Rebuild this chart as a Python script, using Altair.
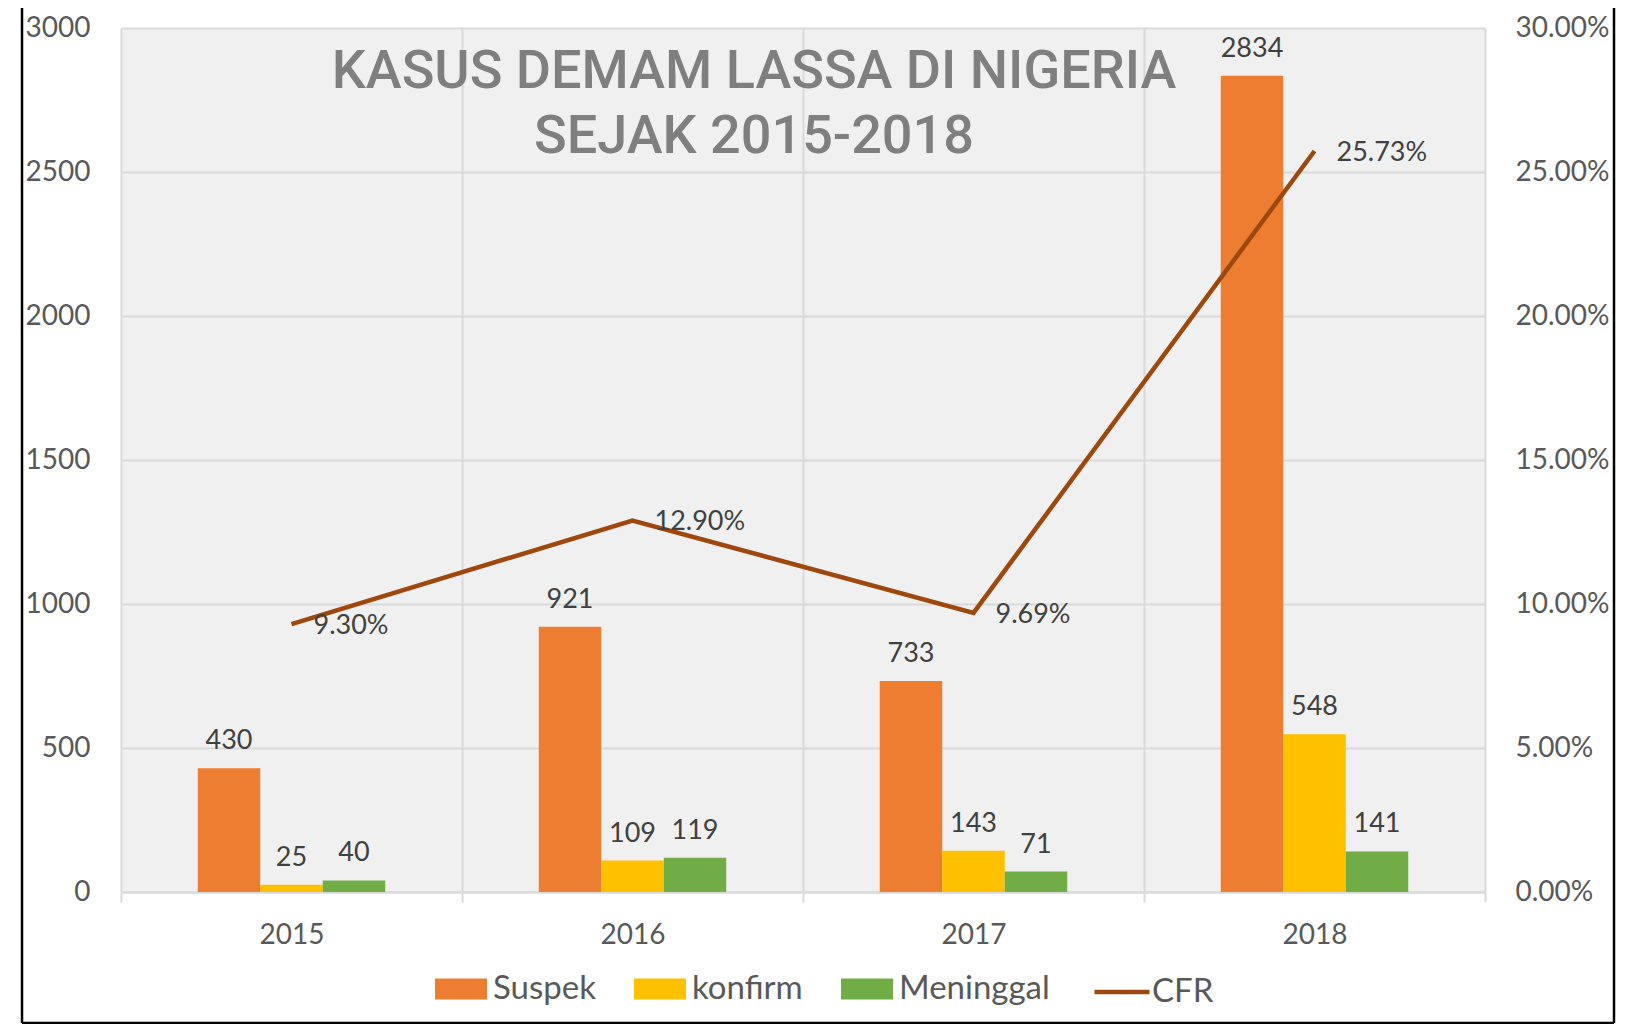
import altair as alt
import pandas as pd

# ---- data ----
years = ["2015", "2016", "2017", "2018"]
series_names = ["Suspek", "konfirm", "Meninggal"]
suspek = [430, 921, 733, 2834]
konfirm = [25, 109, 143, 548]
meninggal = [40, 119, 71, 141]
cfr = [0.0930, 0.1290, 0.0969, 0.2573]
title_lines = ["KASUS DEMAM LASSA DI NIGERIA", "SEJAK 2015-2018"]
left_ticks = [0, 500, 1000, 1500, 2000, 2500, 3000]
right_ticks = [0.0, 0.05, 0.10, 0.15, 0.20, 0.25, 0.30]
bar_colors = ["#ED7D31", "#FFC000", "#70AD47"]
line_color = "#9E480E"

rows = []
for i, y in enumerate(years):
    for name, vals in zip(series_names, [suspek, konfirm, meninggal]):
        rows.append({"year": y, "series": name, "value": vals[i]})
bars_df = pd.DataFrame(rows)
line_df = pd.DataFrame({"year": years, "cfr": cfr, "name": ["CFR"] * len(years)})

W, H = 1364, 864
FONT = "Lato"
LABEL_COLOR = "#595959"
GRID = "#d9d9d9"

x_axis = alt.Axis(
    title=None, tickBand="extent", grid=True, gridColor=GRID, gridWidth=2,
    domainColor=GRID, domainWidth=2, tickColor=GRID, tickWidth=2, tickSize=10,
    labelFont=FONT, labelFontSize=28, labelColor=LABEL_COLOR, labelPadding=19,
    labelAngle=0,
)
x_scale = alt.Scale(paddingInner=0, paddingOuter=0)
x_enc = alt.X("year:N", sort=years, scale=x_scale, axis=x_axis)

y_left_scale = alt.Scale(domain=[0, 3000], nice=False, zero=True)
y_left_axis = alt.Axis(
    title=None, values=left_ticks, format="d", domain=False, ticks=False, grid=True,
    gridColor=GRID, gridWidth=2, labelFont=FONT, labelFontSize=28,
    labelColor=LABEL_COLOR, labelPadding=31,
)
y_right_scale = alt.Scale(domain=[0, 0.30], nice=False, zero=True)
y_right_axis = alt.Axis(
    title=None, orient="right", values=right_ticks, format=".2%", domain=False,
    ticks=False, grid=False, labelFont=FONT, labelFontSize=28,
    labelColor=LABEL_COLOR, labelPadding=30,
)
xoff = alt.XOffset("series:N", sort=series_names,
                   scale=alt.Scale(range=[76.75, 264.25], paddingOuter=0, paddingInner=0))

bars = alt.Chart(bars_df).mark_bar().encode(
    x=x_enc,
    xOffset=xoff,
    y=alt.Y("value:Q", scale=y_left_scale, axis=y_left_axis),
    color=alt.Color(
        "series:N", sort=series_names,
        scale=alt.Scale(domain=series_names, range=bar_colors),
        legend=alt.Legend(
            orient="none", legendX=314, legendY=935, direction="horizontal",
            title=None, symbolType="M-1,-0.404H1V0.404H-1Z", symbolSize=2704,
            symbolStrokeWidth=0, labelFont=FONT, labelFontSize=33,
            labelColor=LABEL_COLOR, labelOffset=6, columnPadding=38, padding=0,
        ),
    ),
)
bar_labels = alt.Chart(bars_df).mark_text(
    font=FONT, fontSize=27, color="#404040", baseline="alphabetic", dy=-19
).encode(
    x=x_enc,
    xOffset=xoff,
    y=alt.Y("value:Q", scale=y_left_scale, axis=y_left_axis),
    text=alt.Text("value:Q"),
)
left = alt.layer(bars, bar_labels)

line = alt.Chart(line_df).mark_line(strokeWidth=4.5).encode(
    x=x_enc,
    y=alt.Y("cfr:Q", scale=y_right_scale, axis=y_right_axis),
    stroke=alt.Stroke(
        "name:N", scale=alt.Scale(domain=["CFR"], range=[line_color]),
        legend=alt.Legend(
            orient="none", legendX=971, legendY=934, title=None,
            symbolType="stroke", symbolSize=3025, symbolStrokeWidth=4.5,
            labelFont=FONT, labelFontSize=33, labelColor=LABEL_COLOR,
            labelOffset=0, padding=0,
        ),
    ),
)
line_labels = alt.Chart(line_df).mark_text(
    font=FONT, fontSize=27, color="#404040", align="left", baseline="middle",
    dx=22, dy=2
).encode(
    x=x_enc,
    y=alt.Y("cfr:Q", scale=y_right_scale, axis=y_right_axis),
    text=alt.Text("cfr:Q", format=".2%"),
)
right = alt.layer(line, line_labels)

one = alt.Data(values=[{"k": 1}])
title = alt.Chart(one).mark_text(
    text=title_lines, font="Roboto", fontSize=54, fontWeight=500,
    color="#7f7f7f", lineHeight=65, align="center", baseline="alphabetic",
).encode(x=alt.value(633), y=alt.value(60))

frame_style = dict(color="black", strokeWidth=2.5)
frame_left = alt.Chart(one).mark_rule(**frame_style).encode(
    x=alt.value(-99), y=alt.value(-20), y2=alt.value(995))
frame_right = alt.Chart(one).mark_rule(**frame_style).encode(
    x=alt.value(1493), y=alt.value(-20), y2=alt.value(995))
frame_bottom = alt.Chart(one).mark_rule(**frame_style).encode(
    x=alt.value(-99), x2=alt.value(1493), y=alt.value(995))

chart = alt.layer(left, right, title, frame_left, frame_right, frame_bottom).resolve_scale(
    y="independent", color="independent", stroke="independent"
).properties(
    width=W, height=H,
    autosize=alt.AutoSizeParams(type="none"),
    padding={"left": 113, "top": 20, "right": 135, "bottom": 132},
    background="white",
).configure_view(
    fill="#f0f0f0", stroke=None
)

chart.save("out.html", embed_options={"renderer": "svg", "actions": False})
